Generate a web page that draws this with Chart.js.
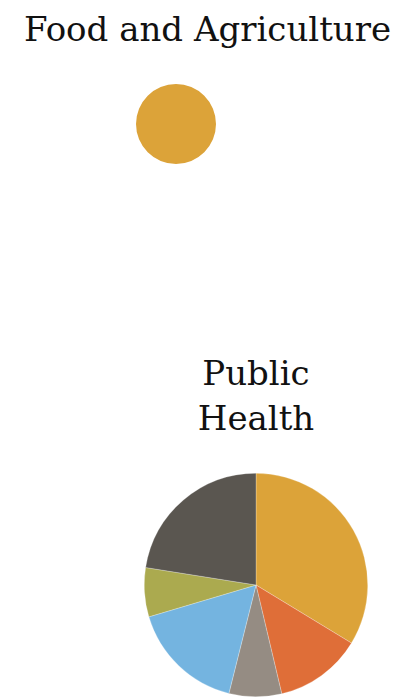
<!DOCTYPE html>
<html>
<head>
<meta charset="utf-8">
<script src="https://cdn.jsdelivr.net/npm/chart.js@4.4.1/dist/chart.umd.min.js"></script>
<style>
  html, body { margin: 0; padding: 0; background: #fff; }
  body { width: 394px; height: 698px; position: relative; overflow: hidden; }
  .title {
    position: absolute;
    font-family: "DejaVu Serif", "Liberation Serif", serif;
    font-size: 34px;
    line-height: 45px;
    color: #111;
    text-align: center;
    white-space: nowrap;
  }
  .pie { position: absolute; }
</style>
</head>
<body>
<div class="title" id="foodTitle" style="left:0; width:415px; top:7px;">Food and Agriculture</div>
<div class="pie" style="left:136px; top:84px; width:80px; height:80px;"><canvas id="foodChart"></canvas></div>

<div class="title" id="healthTitle" style="left:136px; width:240px; top:351px;">Public<br>Health</div>
<div class="pie" style="left:144px; top:473px; width:224px; height:224px;"><canvas id="healthChart"></canvas></div>

<script>
// Data
const foodLabels = ['Food and Agriculture']
const foodValues = [100]
const foodColors = ['#dca339']

const healthLabels = ['A', 'B', 'C', 'D', 'E', 'F']
const healthValues = [33.7, 12.6, 7.6, 16.5, 7.1, 22.5]
const healthColors = ['#dca339', '#df6e38', '#958c83', '#74b4e0', '#abaa4f', '#5a5650']

function pieOptions() {
    return {
        responsive: true,
        maintainAspectRatio: false,
        animation: false,
        layout: { padding: 0 },
        plugins: {
            legend: { display: false },
            tooltip: { enabled: false }
        },
        events: []
    }
}

new Chart(document.getElementById('foodChart'), {
    type: 'pie',
    data: {
        labels: foodLabels,
        datasets: [{
            data: foodValues,
            backgroundColor: foodColors,
            borderWidth: 0
        }]
    },
    options: pieOptions()
})

new Chart(document.getElementById('healthChart'), {
    type: 'pie',
    data: {
        labels: healthLabels,
        datasets: [{
            data: healthValues,
            backgroundColor: healthColors,
            borderColor: 'rgba(255,255,255,0.5)',
            borderWidth: 0.5
        }]
    },
    options: pieOptions()
})
</script>
</body>
</html>
